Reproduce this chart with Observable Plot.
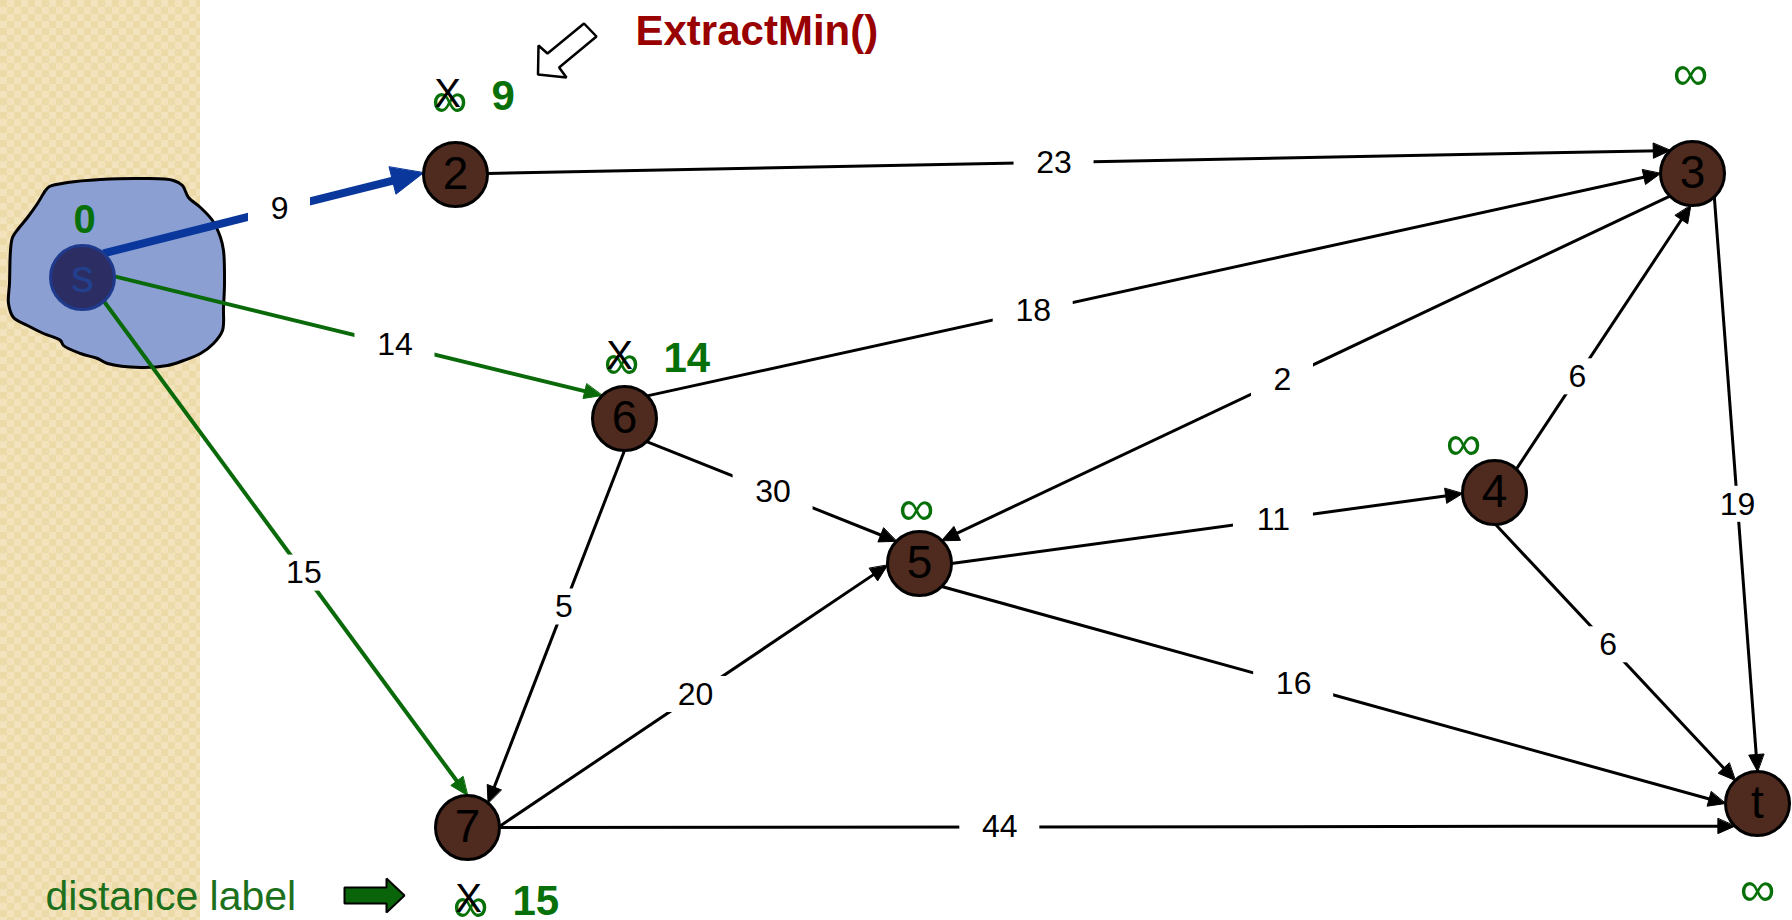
<!DOCTYPE html>
<html><head><meta charset="utf-8">
<script src="https://cdn.jsdelivr.net/npm/d3@7"></script>
<script src="https://cdn.jsdelivr.net/npm/@observablehq/plot@0.6"></script>
<style>
html,body{margin:0;padding:0;background:#fff;}
#chart svg{display:block;}
</style></head><body><div id="chart"></div>
<script>
// ---- graph data ----
const nodeIds = ["s","2","3","4","5","6","7","t"];
const nodeX   = [82, 455, 1692, 1494, 919, 624, 467, 1757];
const nodeY   = [277, 174, 173, 492, 563, 418, 827, 803];

const edgeFrom   = ["s","s","s","2","6","3","4","3","6","6","5","7","5","4","7"];
const edgeTo     = ["2","6","7","3","3","5","3","t","5","7","4","5","t","t","t"];
const edgeWeight = [9, 14, 15, 23, 18, 2, 6, 19, 30, 5, 11, 20, 16, 6, 44];
const edgeState  = ["extracted","tree","tree","plain","plain","plain","plain","plain","plain","plain","plain","plain","plain","plain","plain"];
// attachment angles on the node circles (degrees, 0 = right, 90 = down)
const edgeFromAngle = [-49, -2, 48, -2, -45, 135, -47, 47, 46, 90, 0, -2, 46, 88, 0];
const edgeToAngle   = [183, -134, -90, -134, 180, -46, 93, -90, -136, -50, 178, 177, 180, -134, 135];
// weight label position along each edge (fraction)
const edgeLabelAt   = [0.55, 0.575, 0.55, 0.479, 0.381, 0.532, 0.35, 0.535, 0.506, 0.444, 0.63, 0.505, 0.449, 0.47, 0.405];

// distance labels
const distNode     = ["s","2","6","7","3","4","5","t"];
const distCurrent  = ["0","9","14","15","∞","∞","∞","∞"];
const distPrevious = [null,"∞","∞","∞",null,null,null,null];
const distX        = [84, 449, 621, 470, 1690, 1463, 916, 1757];
const distY        = [220, 100, 362, 905, 73, 443, 508, 889];

// explored region around s
const blobX = [49,67,100,143,173,182,188,200,212,220,223,224,223,222,213,200,183,167,140,107,97,80,63,60,43,27,13,8,9,10,12,18,27,37,45];
const blobY = [186,182,179,178,180,185,197,207,220,237,250,283,307,330,343,353,360,365,367,363,358,353,345,340,333,325,317,303,283,250,237,228,217,203,190];

// annotation shapes
const pointerX = [538, 547, 583.5, 596, 558.6, 566, 537.5];
const pointerY = [45, 53, 23, 36, 67, 77, 74];
const legendArrowX = [344, 386, 386, 404, 386, 386, 344];
const legendArrowY = [887, 887, 878, 895, 912, 903, 903];
const annotationText = ["ExtractMin()", "distance label"];
const annotationX = [635, 45];
const annotationY = [31, 896];

// ---- build ----
const FONT = "'Liberation Sans', Arial, Helvetica, sans-serif";
const GREEN = "#087008";
const R = 32;
const rad = d => d * Math.PI / 180;
const edgeStyle = {
  extracted: {color: "#0a379c", width: 8, head: 32, half: 14},
  tree:      {color: "#0a6a0a", width: 4, head: 18, half: 7.5},
  plain:     {color: "#000000", width: 3, head: 17, half: 7.5}
};

const nodes = nodeIds.map((id, i) => ({id, x: nodeX[i], y: nodeY[i], source: id === "s"}));
const byId = new Map(nodes.map(n => [n.id, n]));

const edges = edgeFrom.map((f, i) => {
  const a = byId.get(f), b = byId.get(edgeTo[i]);
  const st = edgeStyle[edgeState[i]];
  const x1 = a.x + R * Math.cos(rad(edgeFromAngle[i])), y1 = a.y + R * Math.sin(rad(edgeFromAngle[i]));
  const x2 = b.x + R * Math.cos(rad(edgeToAngle[i])),   y2 = b.y + R * Math.sin(rad(edgeToAngle[i]));
  const len = Math.hypot(x2 - x1, y2 - y1), ux = (x2 - x1) / len, uy = (y2 - y1) / len;
  const t = edgeLabelAt[i];
  const w = String(edgeWeight[i]);
  return {i, state: edgeState[i], x1, y1, x2, y2, ux, uy,
    ex: x2 - ux * st.head * 0.6, ey: y2 - uy * st.head * 0.6,
    lx: x1 + (x2 - x1) * t, ly: y1 + (y2 - y1) * t, w, hw: 22 + 9 * w.length};
});

const heads = edges.flatMap(e => {
  const st = edgeStyle[e.state];
  const bx = e.x2 - e.ux * st.head, by = e.y2 - e.uy * st.head;
  const nx = -e.uy, ny = e.ux;
  return [
    {k: e.i, state: e.state, x: e.x2, y: e.y2},
    {k: e.i, state: e.state, x: bx + nx * st.half, y: by + ny * st.half},
    {k: e.i, state: e.state, x: bx - nx * st.half, y: by - ny * st.half}
  ];
});

const dists = distNode.map((n, i) => ({node: n, cur: distCurrent[i], prev: distPrevious[i], x: distX[i], y: distY[i]}));
const blob = blobX.map((x, i) => ({x, y: blobY[i]}));
const pointer = pointerX.map((x, i) => ({x, y: pointerY[i]}));
const legendArrow = legendArrowX.map((x, i) => ({x, y: legendArrowY[i]}));
const annotations = annotationText.map((text, i) => ({text, x: annotationX[i], y: annotationY[i]}));

const marks = [
  Plot.line(blob, {x: "x", y: "y", curve: "catmull-rom-closed", fill: "#8b9fd2", stroke: "black", strokeWidth: 3})
];
for (const s of Object.keys(edgeStyle)) {
  const st = edgeStyle[s];
  marks.push(Plot.link(edges.filter(e => e.state === s), {x1: "x1", y1: "y1", x2: "ex", y2: "ey", stroke: st.color, strokeWidth: st.width, strokeLinecap: "butt"}));
  marks.push(Plot.line(heads.filter(h => h.state === s), {x: "x", y: "y", z: "k", curve: "linear-closed", fill: st.color, stroke: st.color, strokeWidth: 1}));
}
marks.push(
  Plot.rect(edges, {x1: d => d.lx - d.hw, x2: d => d.lx + d.hw, y1: d => d.ly - 18, y2: d => d.ly + 18, fill: "white"}),
  Plot.text(edges, {x: "lx", y: "ly", text: "w", fontSize: 32, fill: "black", fontFamily: FONT, lineAnchor: "middle"}),
  Plot.dot(nodes, {x: "x", y: "y", r: R, fill: d => d.source ? "#2c2e63" : "#4f2a1e", stroke: d => d.source ? "#1f3a8c" : "#000000", strokeWidth: 3}),
  Plot.text(nodes, {x: "x", y: "y", text: "id", fontSize: 46, fill: d => d.source ? "#22408e" : "#000000", fontFamily: FONT, lineAnchor: "middle"}),
  // plain or crossed-out old values
  Plot.text(dists.filter(d => d.cur === "∞" || d.prev), {x: "x", y: "y", text: d => d.prev || d.cur, fontSize: 50, fill: GREEN, fontFamily: FONT, lineAnchor: "middle"}),
  Plot.text(dists.filter(d => d.prev), {x: "x", y: "y", text: () => "X", dx: -2, dy: -6, fontSize: 40, fill: "black", fontFamily: FONT, lineAnchor: "middle"}),
  Plot.text(dists.filter(d => d.prev), {x: "x", y: "y", text: "cur", dx: 42, dy: -4, textAnchor: "start", fontSize: 42, fontWeight: "bold", fill: GREEN, fontFamily: FONT, lineAnchor: "middle"}),
  Plot.text(dists.filter(d => !d.prev && d.cur !== "∞"), {x: "x", y: "y", text: "cur", fontSize: 40, fontWeight: "bold", fill: GREEN, fontFamily: FONT, lineAnchor: "middle"}),
  // annotations
  Plot.line(pointer, {x: "x", y: "y", curve: "linear-closed", fill: "white", stroke: "black", strokeWidth: 2.5, strokeLinejoin: "miter"}),
  Plot.line(legendArrow, {x: "x", y: "y", curve: "linear-closed", fill: "#0a640a", stroke: "black", strokeWidth: 2, strokeLinejoin: "miter"}),
  Plot.text(annotations.slice(0, 1), {x: "x", y: "y", text: "text", textAnchor: "start", fontSize: 42, fontWeight: "bold", fill: "#990000", fontFamily: FONT, lineAnchor: "middle"}),
  Plot.text(annotations.slice(1), {x: "x", y: "y", text: "text", textAnchor: "start", fontSize: 41, fill: "#1c701c", fontFamily: FONT, lineAnchor: "middle"})
);

const chart = Plot.plot({
  width: 1792, height: 920,
  margin: 0,
  x: {domain: [0, 1792], range: [0, 1792], axis: null},
  y: {domain: [0, 920], range: [0, 920], axis: null},
  style: "overflow:hidden;background:linear-gradient(to right, rgba(255,255,255,0) 0, rgba(255,255,255,0) 200px, #ffffff 200px), repeating-conic-gradient(#f3e3bc 0 25%, #eddaa9 0 50%) 0 0/14px 14px;",
  marks
});
document.getElementById("chart").appendChild(chart);
</script></body></html>
